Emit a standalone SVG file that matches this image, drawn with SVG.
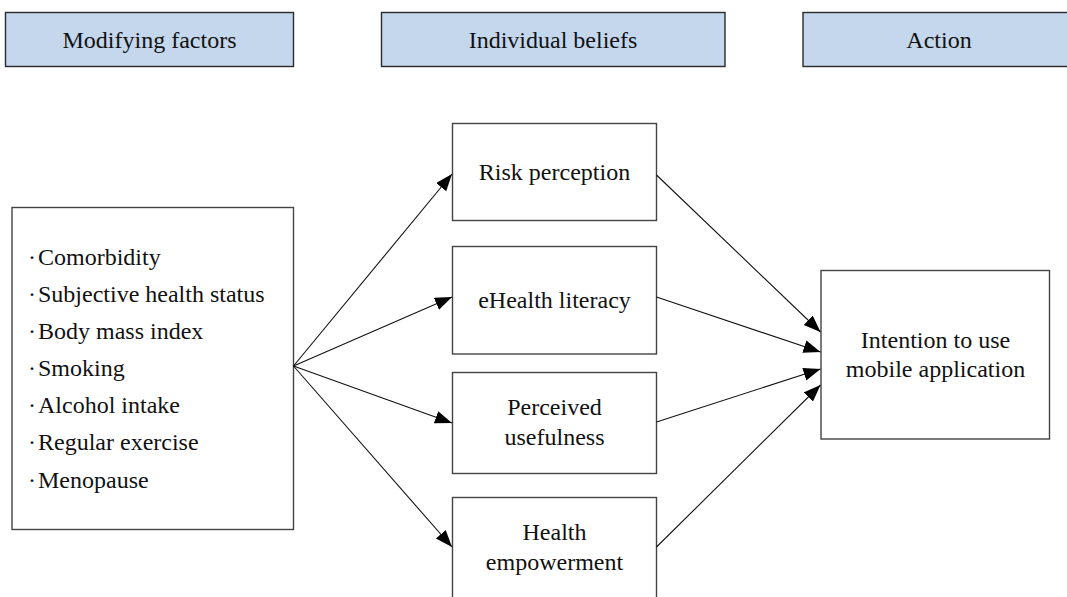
<svg xmlns="http://www.w3.org/2000/svg" width="1067" height="597" viewBox="0 0 1067 597">
<style>
  .hdr { fill: #c4d7ed; stroke: #2a2a2a; stroke-width: 1.4; }
  .box { fill: #ffffff; stroke: #444444; stroke-width: 1.4; }
  text { font-family: "Liberation Serif", "Times New Roman", serif; font-size: 24px; fill: #111111; }
  .c { text-anchor: middle; }
  .edge { stroke: #111111; stroke-width: 1.1; fill: none; marker-end: url(#ah); }
</style>
<defs>
  <marker id="ah" markerUnits="userSpaceOnUse" markerWidth="18" markerHeight="14" refX="17" refY="6.5" orient="auto">
    <path d="M0,0 L17,6.5 L0,13 z" fill="#000000"/>
  </marker>
</defs>

<g id="hdr-modifying">
  <rect class="hdr" x="5.5" y="12.5" width="288" height="54"/>
  <text class="c" x="149.5" y="48">Modifying factors</text>
</g>
<g id="hdr-beliefs">
  <rect class="hdr" x="381.5" y="12.5" width="343.5" height="54"/>
  <text class="c" x="553" y="48">Individual beliefs</text>
</g>
<g id="hdr-action">
  <rect class="hdr" x="803" y="12.5" width="272" height="54"/>
  <text class="c" x="939" y="48">Action</text>
</g>

<g id="modifying-factors">
  <rect class="box" x="12" y="207.5" width="281.5" height="322"/>
  <text x="28" y="265">·<tspan x="38">Comorbidity</tspan></text>
  <text x="28" y="302">·<tspan x="38">Subjective health status</tspan></text>
  <text x="28" y="339">·<tspan x="38">Body mass index</tspan></text>
  <text x="28" y="376">·<tspan x="38">Smoking</tspan></text>
  <text x="28" y="413">·<tspan x="38">Alcohol intake</tspan></text>
  <text x="28" y="450">·<tspan x="38">Regular exercise</tspan></text>
  <text x="28" y="488">·<tspan x="38">Menopause</tspan></text>
</g>

<g id="risk-perception">
  <rect class="box" x="452.5" y="123.5" width="204" height="97"/>
  <text class="c" x="554.5" y="180">Risk perception</text>
</g>
<g id="ehealth-literacy">
  <rect class="box" x="452.5" y="246.5" width="204" height="107.5"/>
  <text class="c" x="554.5" y="308">eHealth literacy</text>
</g>
<g id="perceived-usefulness">
  <rect class="box" x="452.5" y="372.5" width="204" height="101"/>
  <text class="c" x="554.5" y="415">Perceived</text>
  <text class="c" x="554.5" y="445">usefulness</text>
</g>
<g id="health-empowerment">
  <rect class="box" x="452.5" y="497.5" width="204" height="104"/>
  <text class="c" x="554.5" y="540">Health</text>
  <text class="c" x="554.5" y="570">empowerment</text>
</g>
<g id="intention">
  <rect class="box" x="821" y="270.5" width="228.5" height="168.5"/>
  <text class="c" x="935.5" y="348">Intention to use</text>
  <text class="c" x="935.5" y="377">mobile application</text>
</g>

<g id="connectors">
  <line class="edge" x1="293.5" y1="366" x2="452" y2="174"/>
  <line class="edge" x1="293.5" y1="366" x2="452" y2="297"/>
  <line class="edge" x1="293.5" y1="366" x2="452" y2="423"/>
  <line class="edge" x1="293.5" y1="366" x2="452" y2="547"/>
  <line class="edge" x1="656.5" y1="175" x2="820.5" y2="332"/>
  <line class="edge" x1="656.5" y1="297" x2="820.5" y2="352"/>
  <line class="edge" x1="656.5" y1="422" x2="820.5" y2="369"/>
  <line class="edge" x1="656.5" y1="547" x2="820.5" y2="385"/>
</g>
</svg>
